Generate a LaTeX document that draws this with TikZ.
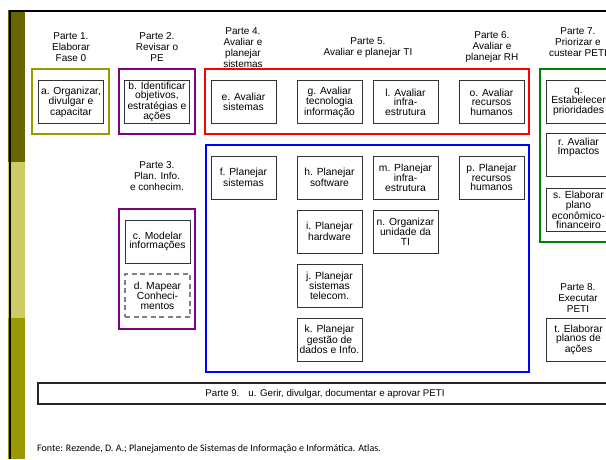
\documentclass[tikz,border=0pt]{standalone}
\usepackage{fontspec}
\setmainfont{Liberation Sans}
\newfontfamily\fontefont{Carlito}
\definecolor{bardark}{RGB}{102,102,0}
\definecolor{barlight}{RGB}{204,204,102}
\definecolor{barmid}{RGB}{153,153,0}
\definecolor{grpolive}{RGB}{153,153,0}
\definecolor{grppurple}{RGB}{128,0,128}
\definecolor{grpgreen}{RGB}{0,128,0}
\tikzset{
  task/.style={draw=black!80,line width=0.9pt,minimum width=65pt,minimum height=43pt,
    align=center,inner sep=1pt,font=\fontsize{10.3}{9.4}\selectfont},
  maptask/.style={task,draw=black!50,line width=1.3pt,dash pattern=on 5pt off 3.5pt},
  grp/.style={draw=#1,line width=1.4pt,inner sep=0pt},
  parte/.style={align=center,inner sep=0pt,font=\fontsize{10}{11}\selectfont}
}
\begin{document}
\begin{tikzpicture}
  [x=1pt,y=-1pt]
\useasboundingbox (0,0) rectangle (606,459);
\clip (0,0) rectangle (606,459);

% barra lateral
\fill[bardark] (8,10) rectangle (25,162);
\fill[barlight] (8,162) rectangle (25,318);
\fill[barmid] (8,318) rectangle (25,459);
\draw[line width=2pt] (10,459) -- (10,11) -- (606,11);

% grupos
\node (g1)[grp=grpolive,minimum width=77pt,minimum height=65pt] at (70.5,101.5) {};
\node (g2)[grp=grppurple,minimum width=76pt,minimum height=65pt] at (157,101.5) {};
\node (g3)[grp=grppurple,minimum width=76pt,minimum height=120pt] at (157,269) {};
\node (g45)[grp=red,minimum width=324pt,minimum height=65pt] at (367,101.5) {};
\node (g46)[grp=blue,minimum width=323pt,minimum height=227pt] at (367.5,258.5) {};
\node (g7)[grp=grpgreen,minimum width=77pt,minimum height=173pt] at (578.5,155.5) {};
\node (g9)[draw=black!85,line width=1.2pt,minimum width=574pt,minimum height=21pt,
  font=\fontsize{9.7}{11}\selectfont] at (325,393.5)
  {Parte 9.\hspace{9pt}u. Gerir, divulgar, documentar e aprovar PETI};

% titulos
\node (t1)[parte] at (71,47) {Parte 1.\\Elaborar\\Fase 0};
\node (t2)[parte] at (157,47) {Parte 2.\\Revisar o\\PE};
\node (t3)[parte] at (157,176) {Parte 3.\\Plan. Info.\\e conhecim.};
\node (t4)[parte] at (243,47.5) {Parte 4.\\Avaliar e\\planejar\\sistemas};
\node (t5)[parte] at (368,48) {Parte 5.\\Avaliar e planejar TI};
\node (t6)[parte] at (492,47) {Parte 6.\\Avaliar e\\planejar RH};
\node (t7)[parte] at (578,42) {Parte 7.\\Priorizar e\\custear PETI};
\node (t8)[parte] at (578,298) {Parte 8.\\Executar\\PETI};

% atividades
\node (a)[task] at (71,102) {a. Organizar,\\divulgar e\\capacitar};
\node (b)[task] at (157,102) {b. Identificar\\objetivos,\\estratégias e\\ações};
\node (c)[task] at (157.5,241.5) {c. Modelar\\informações};
\node (d)[maptask] at (157.5,295.5) {d. Mapear\\Conheci-\\mentos};
\node (e)[task] at (243.5,102) {e. Avaliar\\sistemas};
\node (f)[task] at (243.5,177.5) {f. Planejar\\sistemas};
\node (g)[task] at (329.5,102) {g. Avaliar\\tecnologia\\informação};
\node (h)[task] at (329.5,177.5) {h. Planejar\\software};
\node (i)[task] at (329.5,231.5) {i. Planejar\\hardware};
\node (j)[task] at (329.5,285.5) {j. Planejar\\sistemas\\telecom.};
\node (k)[task] at (329.5,339.5) {k. Planejar\\gestão de\\dados e Info.};
\node (l)[task] at (405.5,102) {l. Avaliar\\infra-\\estrutura};
\node (m)[task] at (405.5,177.5) {m. Planejar\\infra-\\estrutura};
\node (n)[task] at (405.5,231.5) {n. Organizar\\unidade da\\TI};
\node (o)[task] at (491.5,102) {o. Avaliar\\recursos\\humanos};
\node (p)[task] at (491.5,177.5) {p. Planejar\\recursos\\humanos};
\node (q)[task] at (578.5,101.5) {q.\\Estabelecer\\prioridades};
\node (r)[task] at (578.5,155) {r. Avaliar\\Impactos\\[8pt]};
\node (s)[task] at (578.5,210) {s. Elaborar\\plano\\econômico-\\financeiro};
\node (t)[task] at (578.5,339.5) {t. Elaborar\\planos de\\ações};

% fonte
\node (fonte)[anchor=west,inner sep=0pt,font=\fontefont\fontsize{10}{12}\selectfont] at (37,449)
  {Fonte: Rezende, D. A.; Planejamento de Sistemas de Informação e Informática. Atlas.};
\end{tikzpicture}
\end{document}
